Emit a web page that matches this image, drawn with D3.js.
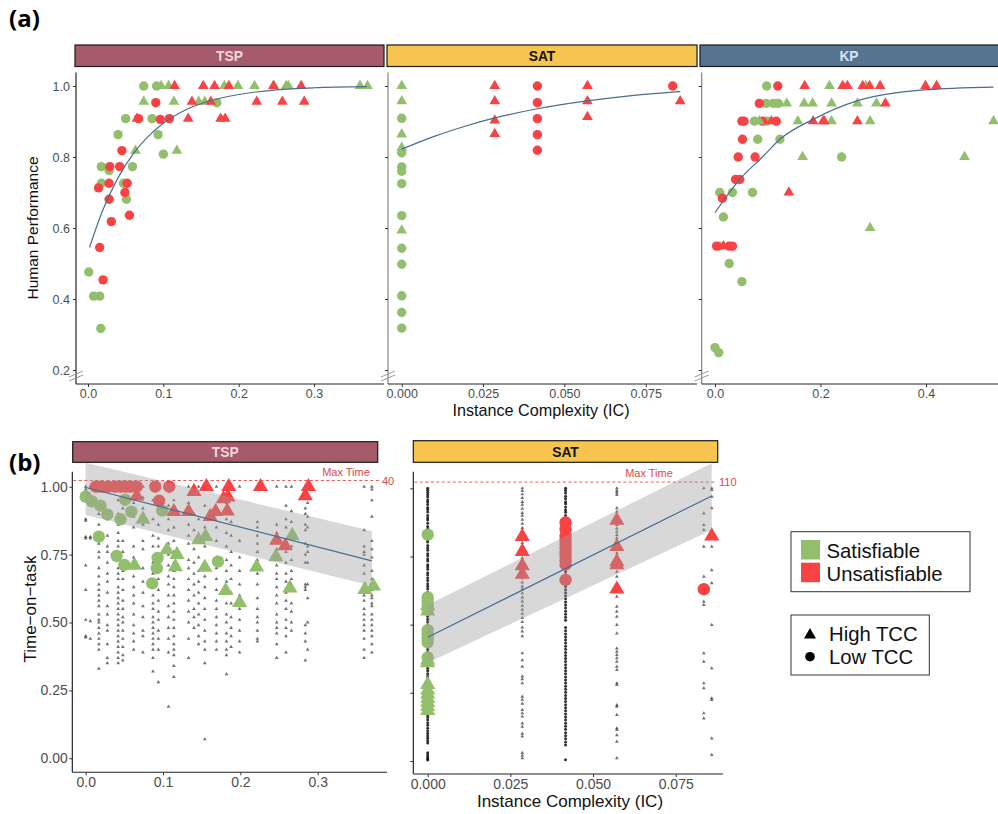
<!DOCTYPE html>
<html><head><meta charset="utf-8">
<script src="https://cdn.jsdelivr.net/npm/d3@7"></script>
<style>
body{margin:0;background:#fff}
svg{display:block}
text{font-family:"Liberation Sans",Arial,Helvetica,sans-serif}
</style>
</head><body>
<svg id="c" width="998" height="814"></svg>
<script>
// ---------------- DATA ----------------
const problems = ["TSP", "SAT", "KP"];
const legendSat = ["Satisfiable", "Unsatisfiable"];
const legendTcc = ["High TCC", "Low TCC"];
const yTicksA = [0.2, 0.4, 0.6, 0.8, 1.0];
const yTicksB = [0.0, 0.25, 0.5, 0.75, 1.0];
const xTicksTSP = [0.0, 0.1, 0.2, 0.3];
const xTicksSAT = [0.0, 0.025, 0.05, 0.075];
const xTicksKP = [0.0, 0.2, 0.4];
const maxTimeLabels = ["40", "110"];

// Panel (a) TSP : [IC, performance]
const tspA_satLow = [[0.001,0.476],[0.0075,0.408],[0.0155,0.408],[0.017,0.317],[0.0177,0.773],[0.0177,0.726],[0.028,0.762],[0.047,0.726],[0.051,0.681],[0.059,0.773],[0.040,0.863],[0.050,0.908],[0.074,1.0],[0.091,1.0],[0.085,0.908],[0.093,0.863],[0.100,0.808],[0.171,0.953]];
const tspA_unsatLow = [[0.014,0.713],[0.0155,0.545],[0.020,0.454],[0.029,0.773],[0.028,0.726],[0.028,0.681],[0.031,0.618],[0.042,0.773],[0.045,0.818],[0.049,0.700],[0.052,0.726],[0.055,0.636],[0.067,0.908],[0.090,0.953],[0.096,0.906],[0.108,0.908]];
const tspA_satHigh = [[0.074,0.956],[0.063,0.818],[0.097,1.0],[0.107,1.0],[0.114,0.956],[0.118,0.818],[0.147,0.956],[0.155,0.956],[0.181,1.0],[0.199,1.0],[0.221,1.0],[0.247,1.0],[0.263,1.0],[0.266,1.0],[0.361,1.0],[0.371,1.0]];
const tspA_unsatHigh = [[0.065,0.908],[0.115,1.0],[0.133,0.908],[0.138,0.956],[0.153,1.0],[0.168,1.0],[0.163,0.956],[0.187,1.0],[0.176,0.908],[0.182,0.908],[0.224,0.956],[0.246,1.0],[0.258,0.956],[0.283,1.0],[0.287,0.956]];
const tspA_fit = [[0.002,0.545],[0.02,0.652],[0.04,0.742],[0.06,0.809],[0.08,0.858],[0.1,0.895],[0.13,0.933],[0.16,0.957],[0.2,0.976],[0.25,0.989],[0.3,0.995],[0.37,0.998]];

// Panel (a) SAT
const satA_satLow = [[0,0.909],[0,0.812],[0,0.772],[0,0.760],[0,0.725],[0,0.635],[0,0.543],[0,0.498],[0,0.409],[0,0.362],[0,0.318]];
const satA_unsatLow = [[0.0417,1.0],[0.0417,0.953],[0.0417,0.908],[0.0417,0.863],[0.0417,0.819],[0.0833,1.0]];
const satA_satHigh = [[0,1.0],[0,0.957],[0,0.864],[0,0.826],[0,0.593]];
const satA_unsatHigh = [[0.0286,1.0],[0.0286,0.957],[0.0286,0.903],[0.0286,0.865],[0.0571,1.0],[0.0571,0.957],[0.0571,0.913],[0.0856,0.957]];
const satA_fit = [[0,0.822],[0.01,0.858],[0.02,0.888],[0.0286,0.910],[0.0417,0.936],[0.057,0.958],[0.07,0.972],[0.0856,0.984]];

// Panel (a) KP
const kpA_satLow = [[0.0,0.263],[0.007,0.249],[0.027,0.5],[0.051,0.449],[0.016,0.631],[0.009,0.7],[0.033,0.7],[0.071,0.7],[0.098,1.0],[0.097,0.951],[0.111,0.951],[0.120,0.951],[0.075,0.901],[0.099,0.901],[0.081,0.850],[0.123,0.850],[0.240,0.8],[0.008,0.549]];
const kpA_unsatLow = [[0.119,1.0],[0.084,0.951],[0.051,0.901],[0.055,0.901],[0.090,0.901],[0.116,0.901],[0.052,0.850],[0.044,0.8],[0.076,0.8],[0.039,0.737],[0.047,0.737],[0.014,0.684],[0.003,0.549],[0.027,0.549],[0.033,0.549]];
const kpA_satHigh = [[0.217,1.0],[0.286,1.0],[0.136,0.951],[0.169,0.951],[0.185,0.951],[0.221,0.951],[0.270,0.951],[0.306,0.951],[0.084,0.901],[0.157,0.901],[0.221,0.901],[0.294,0.901],[0.528,0.901],[0.166,0.8],[0.473,0.8],[0.294,0.6]];
const kpA_unsatHigh = [[0.170,1.0],[0.242,1.0],[0.251,1.0],[0.280,1.0],[0.293,1.0],[0.313,1.0],[0.399,1.0],[0.420,1.0],[0.323,0.951],[0.107,0.901],[0.186,0.901],[0.205,0.901],[0.207,0.901],[0.270,0.901],[0.140,0.70],[0.016,0.549]];
const kpA_fit = [[0,0.643],[0.047,0.737],[0.09,0.80],[0.123,0.85],[0.186,0.906],[0.269,0.958],[0.395,0.989],[0.528,0.997]];

// Panel (b) TSP : individual trials (columns of instances)
const tspTrialX = [0.000,0.006,0.017,0.028,0.042,0.048,0.062,0.074,0.087,0.094,0.107,0.114,0.133,0.140,0.146,0.154,0.169,0.182,0.188,0.199,0.222,0.247,0.259,0.266,0.284,0.287,0.360,0.370];
const tspTrialY = [
 [1.0,0.99,0.88,0.875,0.815,0.81,0.71,0.62,0.51,0.45,0.445],
 [1.0,0.815,0.81,0.505,0.44],
 [1.0,0.94,0.90,0.86,0.82,0.79,0.76,0.74,0.70,0.67,0.64,0.62,0.60,0.58,0.56,0.53,0.51,0.50,0.48,0.46,0.44,0.42,0.40,0.33],
 [1.0,0.88,0.82,0.78,0.76,0.72,0.68,0.65,0.61,0.56,0.53,0.49,0.47,0.42,0.37,0.35],
 [1.0,0.95,0.90,0.86,0.83,0.80,0.78,0.75,0.73,0.70,0.68,0.66,0.63,0.61,0.59,0.57,0.55,0.53,0.51,0.49,0.47,0.45,0.43,0.41,0.39,0.37,0.35],
 [1.0,0.92,0.87,0.80,0.76,0.72,0.69,0.66,0.62,0.58,0.55,0.52,0.50,0.47,0.44,0.41,0.38,0.36],
 [1.0,0.94,0.89,0.85,0.78,0.74,0.70,0.67,0.63,0.60,0.57,0.53,0.49,0.46,0.43,0.40],
 [1.0,0.96,0.92,0.86,0.80,0.77,0.70,0.65,0.61,0.56,0.52,0.47,0.45,0.39],
 [1.0,0.95,0.88,0.82,0.78,0.72,0.68,0.64,0.60,0.57,0.55,0.52,0.50,0.48,0.46,0.44,0.42,0.40,0.37,0.32],
 [1.0,0.91,0.86,0.81,0.78,0.74,0.70,0.66,0.62,0.58,0.54,0.51,0.47,0.44,0.40,0.28],
 [1.0,0.93,0.88,0.84,0.79,0.75,0.71,0.67,0.64,0.60,0.56,0.52,0.48,0.44,0.39,0.19],
 [1.0,0.95,0.90,0.85,0.80,0.76,0.72,0.69,0.66,0.63,0.60,0.57,0.54,0.51,0.48,0.45,0.42,0.40,0.38,0.34,0.30],
 [1.0,0.94,0.86,0.82,0.79,0.73,0.70,0.66,0.62,0.58,0.54,0.50,0.44,0.37],
 [1.0,0.90,0.84,0.77,0.72,0.68,0.64,0.60,0.55,0.52,0.48],
 [1.0,0.88,0.82,0.74,0.69,0.65,0.61,0.57,0.53,0.49,0.45,0.42],
 [1.0,0.93,0.85,0.78,0.72,0.67,0.63,0.59,0.55,0.51,0.47,0.43,0.40,0.35,0.07],
 [1.0,0.91,0.85,0.80,0.74,0.70,0.66,0.62,0.58,0.55,0.52,0.49,0.46,0.43,0.40],
 [1.0,0.94,0.88,0.83,0.78,0.73,0.69,0.65,0.61,0.57,0.53,0.50,0.46,0.43,0.40,0.38,0.31],
 [1.0,0.87,0.82,0.76,0.71,0.66,0.61,0.57,0.52,0.48,0.45,0.41],
 [1.0,0.80,0.74,0.69,0.64,0.60,0.55,0.51,0.47,0.43,0.39],
 [1.0,0.87,0.85,0.82,0.79,0.76,0.73,0.68,0.64,0.59,0.55,0.52,0.50,0.47,0.44,0.43],
 [1.0,0.86,0.83,0.80,0.77,0.74,0.71,0.68,0.66,0.63,0.60,0.57,0.53,0.50,0.48,0.46,0.42,0.37],
 [1.0,0.93,0.88,0.85,0.80,0.76,0.72,0.68,0.65,0.61,0.58,0.55,0.51,0.48,0.45,0.39],
 [1.0,0.91,0.87,0.78,0.73,0.69,0.66,0.62,0.57,0.54,0.50,0.47],
 [1.0,0.92,0.90,0.86,0.84,0.79,0.75,0.72,0.64,0.63,0.62,0.49,0.46,0.43,0.36],
 [1.0,0.94,0.89,0.85,0.78,0.76,0.72,0.64,0.59,0.50,0.40],
 [1.0,0.84,0.78,0.76,0.75,0.71,0.68,0.60,0.58,0.55,0.53,0.51,0.49,0.47,0.44,0.40,0.37],
 [1.0,0.99,0.95,0.89,0.80,0.77,0.74,0.69,0.66,0.64,0.62,0.60,0.59,0.57,0.56,0.53,0.51,0.49,0.47,0.45,0.42,0.39]
];
// Panel (b) TSP : instance means
const tspB_satLow = [[0.0,0.963],[0.008,0.946],[0.017,1.0],[0.019,0.93],[0.028,0.898],[0.017,0.816],[0.045,0.88],[0.051,0.952],[0.059,0.908],[0.04,0.745],[0.05,0.712],[0.093,0.738],[0.092,0.70],[0.086,0.644],[0.099,0.912],[0.171,0.724]];
const tspB_unsatLow = [[0.013,1.0],[0.021,1.0],[0.029,1.0],[0.038,1.0],[0.045,1.0],[0.052,1.0],[0.058,1.0],[0.066,1.0],[0.090,1.0],[0.108,1.0],[0.095,0.948]];
const tspB_satHigh = [[0.074,0.88],[0.105,0.767],[0.118,0.75],[0.116,0.705],[0.063,0.71],[0.154,0.703],[0.146,0.804],[0.155,0.816],[0.181,0.617],[0.221,0.704],[0.199,0.573],[0.246,0.742],[0.267,0.82],[0.264,0.627],[0.361,0.621],[0.372,0.634]];
const tspB_unsatHigh = [[0.066,0.965],[0.114,0.908],[0.133,0.908],[0.140,0.982],[0.156,1.0],[0.161,0.89],[0.168,0.908],[0.178,0.955],[0.185,1.0],[0.184,0.962],[0.183,0.91],[0.226,1.0],[0.288,1.0],[0.284,0.966],[0.247,0.802],[0.258,0.782]];
const tspB_fitX = [0.0, 0.37];
const tspB_fitY = [0.997, 0.727];
const tspB_lo = [0.896, 0.635];
const tspB_hi = [1.09, 0.837];

// Panel (b) SAT : individual trials
const satTrialX = [0.0, 0.0286, 0.0417, 0.0572, 0.0835, 0.0859];
const satTrialY = [
 [1.0,0.993,0.985,0.976,0.968,0.957,0.95,0.941,0.93,0.922,0.913,0.9,0.891,0.884,0.872,0.86,0.852,0.843,0.834,0.82,0.81,0.803,0.79,0.781,0.773,0.76,0.752,0.741,0.733,0.72,0.712,0.703,0.69,0.682,0.671,0.662,0.65,0.641,0.632,0.62,0.611,0.602,0.59,0.58,0.571,0.56,0.551,0.54,0.53,0.52,0.511,0.5,0.49,0.481,0.47,0.46,0.452,0.44,0.431,0.42,0.41,0.401,0.39,0.381,0.37,0.36,0.351,0.34,0.331,0.32,0.31,0.301,0.29,0.281,0.27,0.26,0.251,0.24,0.231,0.22,0.21,0.201,0.19,0.181,0.17,0.16,0.151,0.14,0.131,0.12,0.11,0.101,0.092,0.083,0.074,0.066,0.03,0.022,0.015,0.008,0.004],
 [1.0,0.99,0.978,0.965,0.95,0.94,0.925,0.91,0.9,0.885,0.87,0.855,0.845,0.83,0.815,0.80,0.79,0.775,0.76,0.745,0.73,0.715,0.70,0.685,0.67,0.655,0.64,0.63,0.615,0.60,0.585,0.57,0.555,0.54,0.525,0.51,0.49,0.475,0.458,0.395,0.37,0.346,0.31,0.30,0.285,0.236,0.225,0.21,0.187,0.175,0.163,0.138,0.126,0.10,0.09,0.03,0.02,0.01],
 [1.0,0.992,0.983,0.971,0.962,0.951,0.943,0.931,0.92,0.912,0.9,0.889,0.88,0.869,0.86,0.848,0.839,0.827,0.816,0.806,0.795,0.784,0.772,0.761,0.75,0.74,0.729,0.718,0.706,0.695,0.684,0.673,0.661,0.65,0.64,0.628,0.617,0.606,0.595,0.583,0.572,0.561,0.549,0.538,0.527,0.516,0.49,0.478,0.466,0.455,0.444,0.433,0.421,0.41,0.398,0.387,0.376,0.365,0.353,0.342,0.331,0.32,0.308,0.297,0.286,0.274,0.263,0.252,0.24,0.229,0.218,0.206,0.195,0.184,0.172,0.161,0.15,0.138,0.127,0.116,0.104,0.093,0.082,0.07,0.059,0.005],
 [1.0,0.991,0.984,0.976,0.927,0.914,0.896,0.878,0.866,0.853,0.841,0.829,0.817,0.798,0.78,0.762,0.743,0.713,0.694,0.676,0.645,0.603,0.566,0.548,0.529,0.499,0.468,0.413,0.401,0.389,0.377,0.364,0.346,0.334,0.285,0.279,0.205,0.199,0.169,0.12,0.114,0.095,0.071,0.01],
 [1.0,0.908,0.866,0.847,0.786,0.676,0.584,0.572,0.395,0.364,0.285,0.267,0.175,0.156],
 [1.0,0.994,0.969,0.927,0.786,0.70,0.652,0.499,0.34,0.23,0.224,0.083,0.022]
];
// Panel (b) SAT : instance means
const satB_satLow = [[0,0.83],[0,0.60],[0,0.585],[0,0.57],[0,0.555],[0,0.48],[0,0.465],[0,0.45],[0,0.435],[0,0.38]];
const satB_satHigh = [[0,0.57],[0,0.55],[0,0.37],[0,0.36],[0,0.28],[0,0.26],[0,0.245],[0,0.23],[0,0.215],[0,0.20],[0,0.185]];
const satB_unsatLow = [[0.0417,0.875],[0.0417,0.85],[0.0417,0.825],[0.0417,0.81],[0.0417,0.795],[0.0417,0.78],[0.0417,0.765],[0.0417,0.75],[0.0417,0.735],[0.0417,0.72],[0.0417,0.664],[0.0835,0.63]];
const satB_unsatHigh = [[0.0286,0.823],[0.0286,0.768],[0.0286,0.716],[0.0286,0.684],[0.0572,0.882],[0.0572,0.786],[0.0572,0.731],[0.0572,0.719],[0.0572,0.63],[0.0859,0.825]];
const satB_fitX = [0.0, 0.0859];
const satB_fitY = [0.454, 0.972];
const satB_lo = [0.36, 0.847];
const satB_hi = [0.572, 1.092];

// ---------------- STYLE ----------------
const GREEN = "#92bf6b", RED = "#f94244", LINE = "#4a6d91";
const STRIP = {TSP: ["#a65b6b", "#f6d6dd"], SAT: ["#f7c44f", "#111"], KP: ["#56738f", "#d7e4f3"]};

const svg = d3.select("#c");
const tri = s => d3.symbol().type(d3.symbolTriangle).size(s)();

function strip(x0, x1, y0, y1, name) {
  svg.append("rect").attr("x", x0).attr("y", y0).attr("width", x1 - x0).attr("height", y1 - y0)
    .attr("fill", STRIP[name][0]).attr("stroke", "#1a1a1a").attr("stroke-width", 1.2);
  svg.append("text").attr("x", (x0 + Math.min(x1, 998)) / 2).attr("y", (y0 + y1) / 2 + 5)
    .attr("text-anchor", "middle").attr("font-size", 13.8).attr("font-weight", "bold")
    .attr("fill", STRIP[name][1]).text(name);
}
function axisLine(x1, y1, x2, y2, col) {
  svg.append("line").attr("x1", x1).attr("y1", y1).attr("x2", x2).attr("y2", y2)
    .attr("stroke", col).attr("stroke-width", 1.1);
}
function breakMark(x, y) {
  [0, 4].forEach(o => svg.append("line").attr("x1", x - 7).attr("y1", y + 3 - o).attr("x2", x + 7).attr("y2", y - 3 - o)
    .attr("stroke", "#9a9a9a").attr("stroke-width", 1));
}
function styleAxis(g, fs) {
  g.select(".domain").remove();
  g.selectAll(".tick line").attr("stroke", "#333");
  g.selectAll(".tick text").attr("fill", "#4d4d4d").attr("font-size", fs)
    .attr("font-family", "'Liberation Sans',Arial,sans-serif");
}
function bigPoints(pts, x, y, col, shape, r, ts, op) {
  const g = svg.append("g");
  if (shape === "c") {
    g.selectAll("circle").data(pts).join("circle").attr("cx", d => x(d[0])).attr("cy", d => y(d[1]))
      .attr("r", r).attr("fill", col).attr("opacity", op);
  } else {
    g.selectAll("path").data(pts).join("path").attr("d", tri(ts))
      .attr("transform", d => `translate(${x(d[0])},${y(d[1])})`).attr("fill", col).attr("opacity", op);
  }
}

// ---------------- PANEL (a) ----------------
svg.append("text").attr("x", 9).attr("y", 27).attr("font-size", 24).attr("font-weight", "bold")
  .style("font-family", "'Open Sans',sans-serif").text("(a)");

const yA = d3.scaleLinear().domain([0.2, 1.0]).range([370, 86]);
const panelsA = [
  {name: "TSP", left: 75, right: 384, axisX: 76, x: d3.scaleLinear().domain([0, 0.3]).range([88, 314]), ticks: xTicksTSP, fmt: ".1f",
   sets: [tspA_satLow, tspA_unsatLow, tspA_satHigh, tspA_unsatHigh], fit: tspA_fit, axisCol: "#111"},
  {name: "SAT", left: 387, right: 697, axisX: 388, x: d3.scaleLinear().domain([0, 0.075]).range([401.7, 645.7]), ticks: xTicksSAT, fmt: ".3f",
   sets: [satA_satLow, satA_unsatLow, satA_satHigh, satA_unsatHigh], fit: satA_fit, axisCol: "#777"},
  {name: "KP", left: 700, right: 1010, axisX: 701.7, x: d3.scaleLinear().domain([0, 0.4]).range([715, 926]), ticks: xTicksKP, fmt: ".1f",
   sets: [kpA_satLow, kpA_unsatLow, kpA_satHigh, kpA_unsatHigh], fit: kpA_fit, axisCol: "#777"}
];
panelsA.forEach((p, i) => {
  strip(p.left, p.right, 45, 66.5, p.name);
  axisLine(p.axisX, 72.5, p.axisX, 384, p.axisCol);
  axisLine(p.axisX, 384, Math.min(p.right, 998), 384, "#222");
  const gy = svg.append("g").attr("transform", `translate(${p.axisX},0)`)
    .call(d3.axisLeft(yA).tickValues(yTicksA).tickSize(3).tickPadding(3).tickFormat(d3.format(".1f")));
  styleAxis(gy, 12.5);
  if (i > 0) gy.selectAll(".tick text").remove();
  const gx = svg.append("g").attr("transform", "translate(0,384)")
    .call(d3.axisBottom(p.x).tickValues(p.ticks).tickSize(3).tickPadding(2).tickFormat(d3.format(p.fmt)));
  styleAxis(gx, 12.5);
  breakMark(p.axisX, 378);
  bigPoints(p.sets[0], p.x, yA, GREEN, "c", 4.7, 0, 1);
  bigPoints(p.sets[1], p.x, yA, RED, "c", 4.7, 0, 1);
  bigPoints(p.sets[2], p.x, yA, GREEN, "t", 0, 50, 1);
  bigPoints(p.sets[3], p.x, yA, RED, "t", 0, 50, 1);
  svg.append("path").datum(p.fit).attr("fill", "none").attr("stroke", LINE).attr("stroke-width", 1.2)
    .attr("d", d3.line().x(d => p.x(d[0])).y(d => yA(d[1])).curve(d3.curveMonotoneX));
});
svg.append("text").attr("transform", "translate(38,228) rotate(-90)").attr("text-anchor", "middle")
  .attr("font-size", 15.5).attr("fill", "#111").text("Human Performance");
svg.append("text").attr("x", 541).attr("y", 416).attr("text-anchor", "middle")
  .attr("font-size", 16.2).attr("fill", "#111").text("Instance Complexity (IC)");

// ---------------- PANEL (b) ----------------
svg.append("text").attr("x", 9).attr("y", 471).attr("font-size", 24).attr("font-weight", "bold")
  .style("font-family", "'Open Sans',sans-serif").text("(b)");

const panelsB = [
  {name: "TSP", sl: 72.7, sr: 377.7, st: 441.7, sb: 462.3, axisX: 72.3, bottom: 772.3, axR: 387,
   x: d3.scaleLinear().domain([0, 0.3]).range([85.7, 317.7]), y: d3.scaleLinear().domain([0, 1]).range([758.3, 486.7]),
   ticks: xTicksTSP, fmt: ".1f", tx: tspTrialX, ty: tspTrialY, dotCols: [],
   sets: [tspB_satLow, tspB_unsatLow, tspB_satHigh, tspB_unsatHigh],
   fx: tspB_fitX, fy: tspB_fitY, lo: tspB_lo, hi: tspB_hi, mt: maxTimeLabels[0], mtX: 380, mtLabelX: 346},
  {name: "SAT", sl: 413.3, sr: 717.7, st: 440.7, sb: 462.3, axisX: 413.3, bottom: 774, axR: 723,
   x: d3.scaleLinear().domain([0, 0.075]).range([427.7, 675.7]), y: d3.scaleLinear().domain([0, 1]).range([761, 488.3]),
   ticks: xTicksSAT, fmt: ".3f", tx: satTrialX, ty: satTrialY, dotCols: [0, 2],
   sets: [satB_satLow, satB_unsatLow, satB_satHigh, satB_unsatHigh],
   fx: satB_fitX, fy: satB_fitY, lo: satB_lo, hi: satB_hi, mt: maxTimeLabels[1], mtX: 717, mtLabelX: 649}
];
panelsB.forEach((p, i) => {
  strip(p.sl, p.sr, p.st, p.sb, p.name);
  axisLine(p.axisX, 471.7, p.axisX, p.bottom, "#111");
  axisLine(p.axisX, p.bottom, p.axR, p.bottom, "#222");
  const gy = svg.append("g").attr("transform", `translate(${p.axisX},0)`)
    .call(d3.axisLeft(p.y).tickValues(yTicksB).tickSize(3).tickPadding(1.5).tickFormat(d3.format(".2f")));
  styleAxis(gy, 14);
  if (i > 0) gy.selectAll(".tick text").remove();
  const gx = svg.append("g").attr("transform", `translate(0,${p.bottom})`)
    .call(d3.axisBottom(p.x).tickValues(p.ticks).tickSize(3).tickPadding(2).tickFormat(d3.format(p.fmt)));
  styleAxis(gx, 14);

  const yMax = p.y(1) - 6.2;
  svg.append("line").attr("x1", p.axisX + 1).attr("x2", p.mtX).attr("y1", yMax).attr("y2", yMax)
    .attr("stroke", "#e0474a").attr("stroke-width", 0.9).attr("stroke-dasharray", "3,2.5");
  svg.append("text").attr("x", p.mtLabelX).attr("y", yMax - 5).attr("text-anchor", "middle")
    .attr("font-size", 11).attr("fill", "#e0474a").text("Max Time");
  svg.append("text").attr("x", p.mtX + 2).attr("y", yMax + 4).attr("font-size", 11)
    .attr("fill", "#e0474a").text(p.mt);

  const trials = [];
  p.tx.forEach((xv, ci) => p.ty[ci].forEach(yv => trials.push({x: xv, y: yv, dot: p.dotCols.includes(ci)})));
  const gt = svg.append("g");
  gt.selectAll("path").data(trials.filter(d => !d.dot)).join("path").attr("d", tri(6))
    .attr("transform", d => `translate(${p.x(d.x)},${p.y(d.y)})`).attr("fill", "#1a1a1a").attr("opacity", 0.62);
  gt.selectAll("circle").data(trials.filter(d => d.dot)).join("circle")
    .attr("cx", d => p.x(d.x)).attr("cy", d => p.y(d.y)).attr("r", 1.5).attr("fill", "#000").attr("opacity", 0.8);

  bigPoints(p.sets[0], p.x, p.y, GREEN, "c", 6.2, 0, 1);
  bigPoints(p.sets[1], p.x, p.y, RED, "c", 6.2, 0, 1);
  bigPoints(p.sets[2], p.x, p.y, GREEN, "t", 0, 100, 1);
  bigPoints(p.sets[3], p.x, p.y, RED, "t", 0, 100, 1);

  const rib = p.fx.map((xv, k) => [xv, p.lo[k], p.hi[k]]);
  svg.append("path").datum(rib).attr("fill", "#9e9e9e").attr("opacity", 0.4)
    .attr("d", d3.area().x(d => p.x(d[0])).y0(d => p.y(d[1])).y1(d => Math.max(p.y(d[2]), p.sb + 0.5)));
  svg.append("path").datum(p.fx.map((xv, k) => [xv, p.fy[k]])).attr("fill", "none")
    .attr("stroke", LINE).attr("stroke-width", 1.2)
    .attr("d", d3.line().x(d => p.x(d[0])).y(d => p.y(d[1])));
});
svg.append("text").attr("transform", "translate(36,609) rotate(-90)").attr("text-anchor", "middle")
  .attr("font-size", 17).attr("fill", "#111").text("Time\u2212on\u2212task");
svg.append("text").attr("x", 570).attr("y", 807).attr("text-anchor", "middle")
  .attr("font-size", 17).attr("fill", "#111").text("Instance Complexity (IC)");

// ---------------- LEGENDS ----------------
svg.append("rect").attr("x", 791).attr("y", 531.7).attr("width", 179).attr("height", 60)
  .attr("fill", "#fff").attr("stroke", "#333").attr("stroke-width", 1);
[GREEN, RED].forEach((c, k) => {
  svg.append("rect").attr("x", 801).attr("y", 540 + k * 22.7).attr("width", 19).attr("height", 19.5).attr("fill", c);
  svg.append("text").attr("x", 826.5).attr("y", 557.5 + k * 23).attr("font-size", 20.3).attr("fill", "#111").text(legendSat[k]);
});
svg.append("rect").attr("x", 791).attr("y", 615).attr("width", 138.3).attr("height", 60)
  .attr("fill", "#fff").attr("stroke", "#333").attr("stroke-width", 1);
svg.append("path").attr("d", tri(62)).attr("transform", "translate(810,635)").attr("fill", "#000");
svg.append("circle").attr("cx", 810).attr("cy", 656.7).attr("r", 4.8).attr("fill", "#000");
legendTcc.forEach((t, k) => svg.append("text").attr("x", 829).attr("y", 641 + k * 22.7)
  .attr("font-size", 20.3).attr("fill", "#111").text(t));
</script>
</body></html>
